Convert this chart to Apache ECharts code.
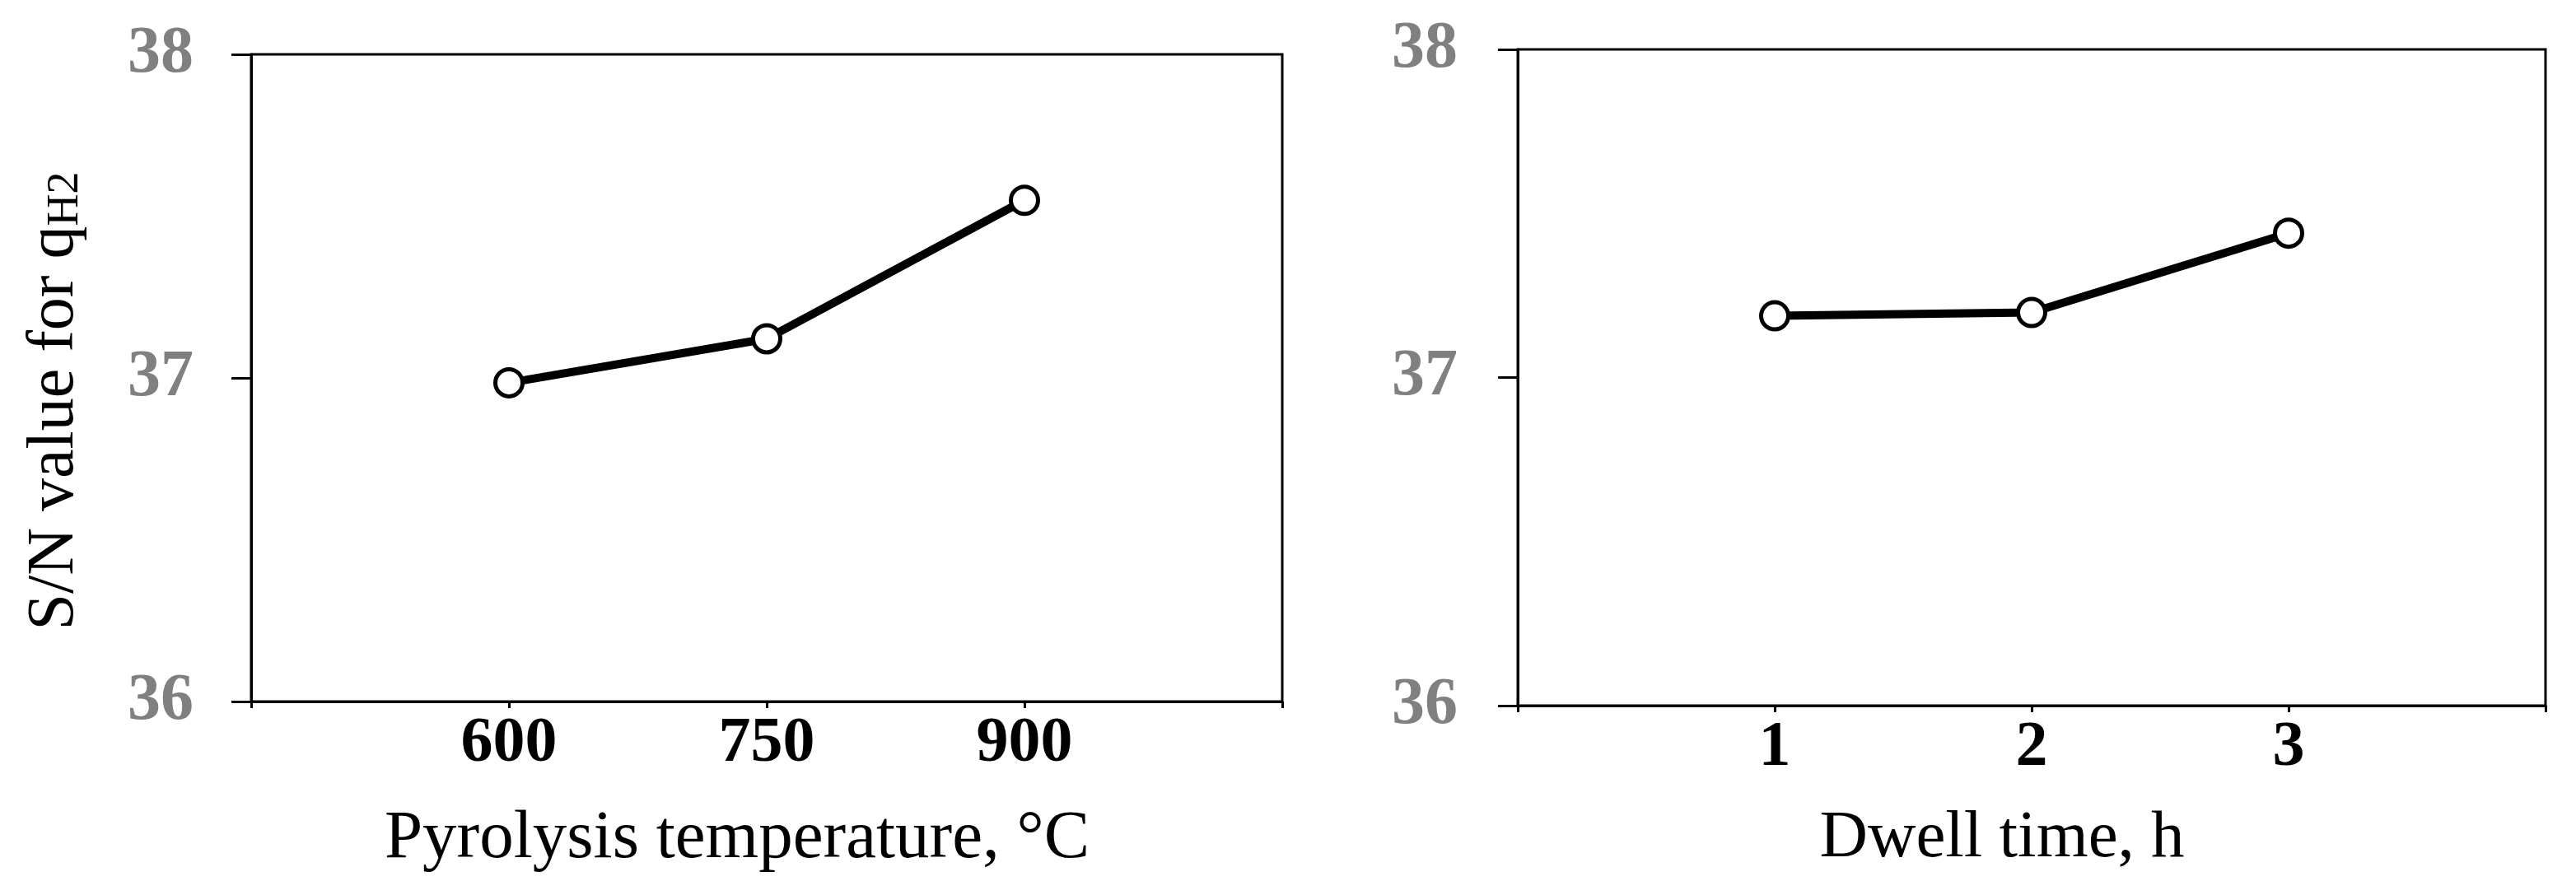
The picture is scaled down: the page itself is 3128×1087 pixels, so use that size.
<!DOCTYPE html>
<html>
<head>
<meta charset="utf-8">
<script src="https://cdn.jsdelivr.net/npm/echarts@6/dist/echarts.min.js"></script>
<style>
  html, body { margin: 0; padding: 0; background: #fff; }
  #chart { width: 3128px; height: 1087px; }
</style>
</head>
<body>
<div id="chart"></div>
<script>
// ---- data ----
const tempLevels = [600, 750, 900];
const tempSN = [36.985, 37.121, 37.549];
const dwellLevels = [1, 2, 3];
const dwellSN = [37.188, 37.198, 37.440];
const yTicks = [36, 37, 38];
const tempTitle = 'Pyrolysis temperature, °C';
const dwellTitle = 'Dwell time, h';
const yTitleMain = 'S/N value for q';
const yTitleSub = 'H2';

const serif = 'Liberation Serif, "Times New Roman", serif';

function xAxisCfg(gridIndex, min, max, interval, labels, name, gap, fs) {
  return {
    type: 'value', gridIndex, min, max, interval,
    name, nameLocation: 'middle', nameGap: gap,
    nameTextStyle: { fontFamily: serif, fontSize: fs, color: '#000', padding: [0, 72, 0, 0] },
    axisLine: { show: true, onZero: false, lineStyle: { color: '#000', width: 3 } },
    axisTick: { show: true, inside: false, length: 8, lineStyle: { color: '#000', width: 3 } },
    splitLine: { show: false },
    axisLabel: {
      show: true, margin: 13, fontFamily: serif, fontWeight: 'bold', fontSize: 78, color: '#000',
      formatter: v => labels.indexOf(v) >= 0 ? String(v) : ''
    }
  };
}
function yAxisCfg(gridIndex, margin) {
  return {
    type: 'value', gridIndex, min: yTicks[0], max: yTicks[yTicks.length - 1], interval: 1,
    axisLine: { show: true, onZero: false, lineStyle: { color: '#000', width: 3 } },
    axisTick: { show: true, inside: false, length: 24, lineStyle: { color: '#000', width: 3 } },
    splitLine: { show: false },
    axisLabel: { margin, fontFamily: serif, fontWeight: 'bold', fontSize: 80, color: '#808080' }
  };
}
function seriesCfg(idx, xs, ys) {
  return {
    type: 'line', xAxisIndex: idx, yAxisIndex: idx,
    data: xs.map((x, i) => [x, ys[i]]),
    symbol: 'circle', symbolSize: 33,
    itemStyle: { color: '#fff', borderColor: '#000', borderWidth: 5 },
    lineStyle: { color: '#000', width: 10 },
    z: 3, animation: false
  };
}

const chart = echarts.init(document.getElementById('chart'), null, { renderer: 'canvas' });
chart.setOption({
  backgroundColor: '#fff',
  animation: false,
  grid: [
    { left: 305, top: 66, width: 1252, height: 786, show: true, borderColor: '#000', borderWidth: 3, backgroundColor: 'transparent' },
    { left: 1843, top: 60, width: 1248, height: 797, show: true, borderColor: '#000', borderWidth: 3, backgroundColor: 'transparent' }
  ],
  xAxis: [
    xAxisCfg(0, 450, 1050, 150, tempLevels, tempTitle, 126, 83),
    xAxisCfg(1, 0, 4, 1, dwellLevels, dwellTitle, 121, 81)
  ],
  yAxis: [yAxisCfg(0, 70), yAxisCfg(1, 73)],
  series: [seriesCfg(0, tempLevels, tempSN), seriesCfg(1, dwellLevels, dwellSN)],
  graphic: [{
    type: 'text', x: 67, y: 487, rotation: Math.PI / 2,
    style: {
      text: '{a|' + yTitleMain + '}{b|' + yTitleSub + '}',
      align: 'center', verticalAlign: 'middle',
      rich: {
        a: { fontFamily: serif, fontSize: 80, color: '#000', verticalAlign: 'bottom', lineHeight: 80 },
        b: { fontFamily: serif, fontSize: 54, color: '#000', verticalAlign: 'bottom', lineHeight: 64 }
      }
    }
  }]
});
</script>
</body>
</html>
